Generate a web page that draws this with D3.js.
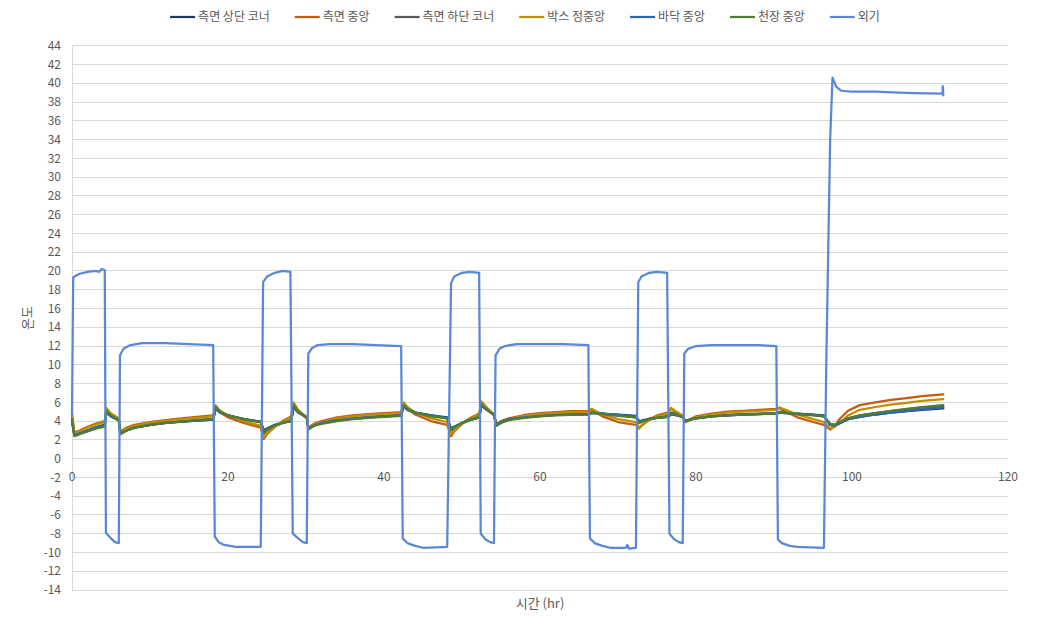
<!DOCTYPE html>
<html><head><meta charset="utf-8">
<script src="https://cdn.jsdelivr.net/npm/d3@7"></script>
<style>
html,body{margin:0;padding:0;background:#fff;}
text{font-family:"Noto Sans CJK KR","Noto Sans",sans-serif;}
</style></head>
<body><svg id="chart" width="1050" height="630"></svg>
<script>
const seriesNames = ["측면 상단 코너","측면 중앙","측면 하단 코너","박스 정중앙","바닥 중앙","천장 중앙","외기"];
const seriesColors = ["#203864","#c55a11","#595959","#bf8f00","#2e67b0","#4f7d33","#5b88d6"];
const yTicks = d3.range(-14, 45, 2);
const xTicks = [0,20,40,60,80,100,120];

// inside sensors: shared time points (hr)
const tIn = [0,0.3,1,2,3,4.2,4.4,5,6.0,6.2,7,8,10,12,14,16,18.1,18.4,19,20,22,24.2,24.6,25,26,27,28.1,28.4,29,30.1,30.3,31,32,34,36,38,40,42.2,42.5,43,44,46,48.1,48.6,49,50,51,52.2,52.5,53,54.1,54.4,55,56,58,60,62,64,66.2,66.6,67,68,70,72.3,72.7,73,74,75,76.4,76.8,77.3,78.3,78.6,79,80,82,84,86,88,90.3,90.7,91.5,93,95,96.4,97.2,97.8,98.5,99.5,101,103,105,107,109,111.7];
const sideCenter = [4.6,2.8,3.0,3.4,3.7,4.0,5.2,4.7,4.2,2.9,3.3,3.6,3.9,4.1,4.3,4.45,4.6,5.5,4.9,4.4,3.8,3.3,2.1,2.6,3.4,4.0,4.5,5.8,5.0,4.3,3.3,3.7,4.0,4.4,4.6,4.75,4.85,4.95,5.8,5.3,4.7,4.0,3.6,2.4,2.9,3.7,4.3,4.8,5.9,5.4,4.6,3.6,4.0,4.3,4.65,4.85,4.95,5.05,5.1,5.2,5.0,4.5,3.9,3.6,3.2,3.5,4.2,4.6,4.9,5.3,5.0,4.5,3.9,4.1,4.5,4.8,5.0,5.1,5.2,5.3,5.4,5.0,4.4,3.9,3.6,3.1,3.5,4.3,5.1,5.7,6.0,6.25,6.45,6.65,6.85];
const boxCenter = [4.8,2.7,2.9,3.3,3.6,3.9,5.4,4.8,4.3,2.8,3.2,3.5,3.8,4.0,4.2,4.35,4.5,5.7,5.1,4.6,4.0,3.5,2.3,2.7,3.4,3.9,4.4,6.0,5.2,4.4,3.2,3.6,3.9,4.3,4.5,4.65,4.75,4.85,6.0,5.5,4.9,4.3,3.9,2.6,3.0,3.7,4.2,4.7,6.1,5.6,4.7,3.5,3.9,4.2,4.55,4.75,4.85,4.95,5.0,5.3,5.15,4.7,4.2,3.9,3.3,3.5,4.1,4.5,4.8,5.4,5.1,4.6,3.9,4.05,4.4,4.7,4.9,5.0,5.1,5.2,5.45,5.2,4.7,4.2,3.9,3.2,3.4,3.9,4.6,5.2,5.5,5.75,5.95,6.15,6.35];
const sideBottom = [4.3,2.5,2.7,3.0,3.3,3.6,5.0,4.6,4.1,2.7,3.0,3.3,3.6,3.8,3.95,4.1,4.2,5.4,5.0,4.6,4.2,3.9,2.7,3.0,3.5,3.8,4.1,5.6,5.0,4.4,3.2,3.5,3.8,4.1,4.3,4.45,4.55,4.65,5.7,5.3,4.9,4.6,4.3,3.0,3.3,3.8,4.2,4.5,5.8,5.4,4.7,3.6,3.9,4.2,4.45,4.6,4.7,4.75,4.8,4.95,4.9,4.8,4.6,4.4,3.8,3.9,4.2,4.4,4.55,4.9,4.8,4.5,4.0,4.1,4.35,4.55,4.65,4.75,4.8,4.85,5.0,4.9,4.8,4.65,4.5,3.7,3.6,3.9,4.3,4.6,4.85,5.05,5.25,5.45,5.6];
const ceilCenter = [4.2,2.4,2.6,2.9,3.2,3.4,5.1,4.6,4.1,2.6,3.0,3.3,3.6,3.8,3.95,4.1,4.2,5.5,5.0,4.6,4.2,3.9,2.8,3.1,3.5,3.8,4.0,5.7,5.0,4.4,3.1,3.5,3.7,4.0,4.2,4.35,4.45,4.55,5.7,5.3,4.9,4.5,4.3,3.0,3.3,3.8,4.1,4.4,5.8,5.4,4.6,3.5,3.8,4.1,4.35,4.5,4.6,4.65,4.7,4.9,4.85,4.75,4.55,4.4,3.8,3.9,4.2,4.35,4.5,4.8,4.75,4.45,3.95,4.05,4.3,4.5,4.6,4.7,4.75,4.8,4.95,4.9,4.75,4.6,4.5,3.7,3.6,3.9,4.3,4.6,4.85,5.1,5.3,5.5,5.7];
const floorCenter = [4.0,2.5,2.7,3.0,3.3,3.6,4.9,4.5,4.1,2.7,3.0,3.3,3.6,3.8,3.95,4.05,4.15,5.3,4.9,4.6,4.2,3.9,2.9,3.1,3.5,3.8,4.0,5.5,4.9,4.4,3.2,3.5,3.8,4.1,4.25,4.4,4.5,4.6,5.6,5.2,4.9,4.6,4.35,3.1,3.4,3.8,4.1,4.4,5.7,5.3,4.7,3.6,3.9,4.2,4.4,4.55,4.65,4.7,4.75,4.85,4.85,4.8,4.65,4.5,3.9,4.0,4.2,4.35,4.45,4.7,4.65,4.45,4.0,4.1,4.3,4.5,4.6,4.7,4.75,4.8,4.9,4.85,4.75,4.65,4.55,3.6,3.5,3.8,4.2,4.45,4.7,4.9,5.05,5.25,5.45];
const sideTop = [4.0,2.5,2.7,3.0,3.3,3.6,4.9,4.5,4.1,2.7,3.0,3.3,3.6,3.8,3.95,4.05,4.15,5.3,4.9,4.6,4.2,3.95,3.0,3.2,3.6,3.85,4.0,5.5,4.9,4.4,3.2,3.5,3.8,4.1,4.25,4.4,4.5,4.6,5.6,5.2,4.9,4.6,4.4,3.2,3.4,3.8,4.1,4.4,5.7,5.3,4.7,3.6,3.9,4.2,4.4,4.55,4.65,4.7,4.75,4.85,4.85,4.8,4.7,4.55,4.0,4.05,4.25,4.35,4.45,4.7,4.65,4.45,4.0,4.1,4.3,4.5,4.6,4.7,4.75,4.8,4.9,4.85,4.8,4.7,4.6,3.6,3.5,3.8,4.2,4.45,4.7,4.9,5.05,5.2,5.35];

// outside air
const tOut = [0,0.15,0.5,1,2,3,3.5,3.8,4.2,4.35,5,5.5,6.0,6.15,6.6,7.5,9,12,15,18.1,18.3,18.8,19.5,21,24.2,24.5,25,26,27,28.0,28.3,29,29.6,30.1,30.3,30.8,31.5,33,36,39,42.2,42.4,43,44,45,48.1,48.6,49,50,51,52.2,52.4,53,53.6,54.1,54.3,54.8,55.5,57,60,63,66.2,66.4,67,68,69,71,71.2,71.4,72.3,72.6,73,74,75,76.3,76.6,77.2,77.8,78.3,78.5,79,80,82,85,88,90.3,90.5,91,92,93,96.4,96.7,97.2,97.5,98.0,98.6,100,103,106,108,111.6,111.65,111.7];
const outside = [4.6,19.3,19.5,19.7,19.9,20.0,19.9,20.2,20.1,-7.9,-8.5,-8.9,-9.0,11.0,11.7,12.1,12.3,12.3,12.2,12.1,-8.3,-8.9,-9.2,-9.4,-9.4,18.8,19.4,19.8,20.0,19.9,-8.0,-8.5,-8.9,-9.0,11.2,11.8,12.1,12.2,12.2,12.1,12.0,-8.5,-9.0,-9.3,-9.5,-9.4,18.7,19.4,19.8,19.9,19.8,-8.0,-8.6,-8.9,-9.0,11.0,11.7,12.0,12.2,12.2,12.2,12.1,-8.5,-9.0,-9.3,-9.5,-9.5,-9.2,-9.6,-9.5,18.8,19.4,19.8,19.9,19.8,-8.0,-8.6,-8.9,-9.0,11.2,11.7,12.0,12.1,12.1,12.1,12.0,-8.6,-9.0,-9.3,-9.4,-9.5,10.0,34.0,40.6,39.6,39.2,39.1,39.1,39.0,38.95,38.9,39.7,38.7];

const svg = d3.select("#chart");
const W = 1050, H = 630;
const x = d3.scaleLinear().domain([0,120]).range([72,1008]);
const y = d3.scaleLinear().domain([-14,44]).range([590,45.7]);

// gridlines
svg.append("g").selectAll("line").data(yTicks).join("line")
  .attr("x1", x(0)).attr("x2", x(120))
  .attr("y1", d=>y(d)).attr("y2", d=>y(d))
  .attr("stroke", "#d9d9d9").attr("stroke-width", 1).attr("shape-rendering","crispEdges");
// y axis line
svg.append("line").attr("x1", x(0)).attr("x2", x(0)).attr("y1", y(44)).attr("y2", y(-14))
  .attr("stroke", "#d9d9d9").attr("shape-rendering","crispEdges");

// y tick labels
svg.append("g").selectAll("text").data(yTicks).join("text")
  .attr("x", 61).attr("y", d=>y(d)).attr("dy","0.35em")
  .attr("text-anchor","end").attr("font-size",12).attr("fill","#595959")
  .text(d=>d);
// x tick labels (at y=0 crossing)
svg.append("g").selectAll("text").data(xTicks).join("text")
  .attr("x", d=>x(d)).attr("y", y(0)+22)
  .attr("text-anchor","middle").attr("font-size",12).attr("fill","#595959")
  .text(d=>d);

// axis titles
svg.append("text").attr("x", 540).attr("y", 608).attr("text-anchor","middle")
  .attr("font-size",13).attr("fill","#595959").text("시간 (hr)");
svg.append("text").attr("transform","translate(32,318) rotate(-90)").attr("text-anchor","middle")
  .attr("font-size",13).attr("fill","#595959").text("온도");

// lines
const inside = [sideTop, sideCenter, sideBottom, boxCenter, floorCenter, ceilCenter];
const line = d3.line().x(d=>x(d[0])).y(d=>y(d[1]));
inside.forEach((vals,i)=>{
  svg.append("path").datum(tIn.map((t,k)=>[t, vals[k]]))
    .attr("d", line).attr("fill","none").attr("stroke", seriesColors[i])
    .attr("stroke-width", 2.25).attr("stroke-linejoin","round").attr("stroke-linecap","round");
});
svg.append("path").datum(tOut.map((t,k)=>[t, outside[k]]))
  .attr("d", line).attr("fill","none").attr("stroke", seriesColors[6])
  .attr("stroke-width", 2.25).attr("stroke-linejoin","round").attr("stroke-linecap","round");

// legend
const lg = svg.append("g");
let cx = 0;
const gap = 25;
seriesNames.forEach((n,i)=>{
  const g = lg.append("g").attr("transform", `translate(${cx},0)`);
  g.append("line").attr("x1",0).attr("x2",25).attr("y1",17).attr("y2",17)
    .attr("stroke", seriesColors[i]).attr("stroke-width",2.25);
  const t = g.append("text").attr("x",28).attr("y",17).attr("dy","0.35em")
    .attr("font-size",12).attr("fill","#595959").text(n);
  cx += 28 + t.node().getComputedTextLength() + gap;
});
const totalW = cx - gap;
lg.attr("transform", `translate(${(W - totalW)/2},0)`);
</script>
</body></html>
